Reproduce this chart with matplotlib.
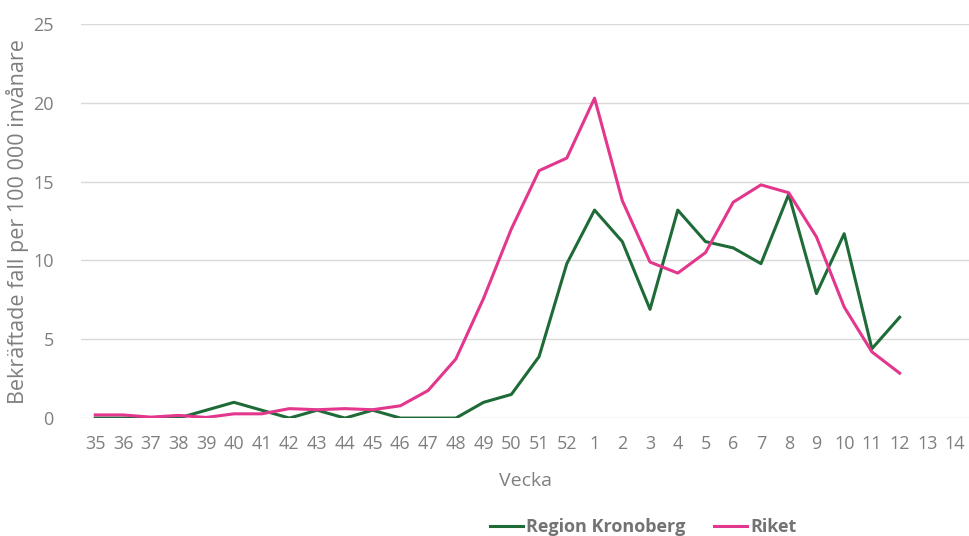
import matplotlib
matplotlib.use("Agg")
import matplotlib.pyplot as plt

weeks = [str(w) for w in range(35, 53)] + [str(w) for w in range(1, 15)]
kronoberg = [0, 0, 0, 0, 0.5, 1.0, 0.5, 0, 0.5, 0, 0.5, 0, 0, 0, 1.0, 1.5, 3.9, 9.8,
             13.2, 11.2, 6.9, 13.2, 11.2, 10.8, 9.8, 14.2, 7.9, 11.7, 4.4, 6.4]
riket = [0.2, 0.2, 0.06, 0.17, 0.04, 0.27, 0.27, 0.6, 0.53, 0.6, 0.53, 0.78, 1.75, 3.75,
         7.6, 12.0, 15.7, 16.5, 20.3, 13.8, 9.9, 9.2, 10.5, 13.7, 14.8, 14.3, 11.5, 7.05, 4.2, 2.85]
yticks = [0, 5, 10, 15, 20, 25]

plt.rcParams['font.family'] = ['Open Sans', 'DejaVu Sans']
grey = '#7f7f7f'

fig = plt.figure(figsize=(9.69, 5.36), dpi=100)
ax = fig.add_axes([0.084, 0.22, 0.916, 0.735])

x = list(range(len(weeks)))
ax.plot(x[:len(kronoberg)], kronoberg, color='#1e6b38', lw=2.2, label='Region Kronoberg', solid_joinstyle='round')
ax.plot(x[:len(riket)], riket, color='#e2378c', lw=2.2, label='Riket', solid_joinstyle='round')

ax.set_xlim(-0.5, len(weeks) - 0.5)
ax.set_ylim(0, 25)
ax.set_xticks(x)
ax.set_xticklabels(weeks)
ax.set_yticks(yticks)
ax.tick_params(axis='both', length=0, colors=grey, labelsize=13)
ax.tick_params(axis='x', pad=12)
ax.tick_params(axis='y', pad=20)
for s in ax.spines.values():
    s.set_visible(False)
ax.grid(axis='y', color='#d9d9d9', lw=1)
ax.set_axisbelow(True)
ax.set_xlabel('Vecka', color=grey, fontsize=14, labelpad=14)
ax.set_ylabel('Bekräftade fall per 100 000 invånare', color=grey, fontsize=15.5, labelpad=3)

leg = fig.legend(loc='center', bbox_to_anchor=(0.664, 0.017), ncol=2, frameon=False,
                 prop={'weight': 'bold', 'size': 13}, handlelength=1.8, handletextpad=0.2,
                 columnspacing=1.6)
for t in leg.get_texts():
    t.set_color('#737373')

fig.savefig('out.png', dpi=100)
